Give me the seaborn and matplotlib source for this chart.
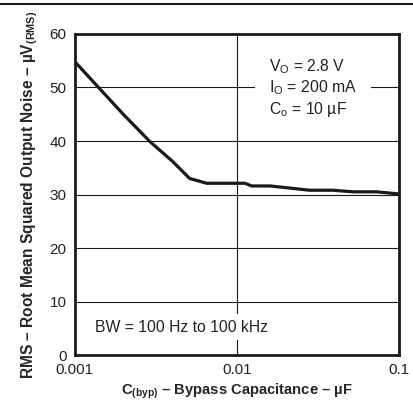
import numpy as np
import pandas as pd
import matplotlib
matplotlib.use("Agg")
import matplotlib.pyplot as plt
from matplotlib.lines import Line2D
import seaborn as sns

# data
cap_uF = [0.001, 0.002, 0.0029, 0.0040, 0.0051, 0.0065, 0.0112, 0.0123, 0.016, 0.028, 0.039, 0.052, 0.073, 0.1]
noise_uV = [54.8, 44.9, 39.9, 36.2, 33.0, 32.1, 32.1, 31.6, 31.6, 30.8, 30.8, 30.5, 30.5, 30.1]
x_ticks = [0.001, 0.01, 0.1]
x_ticklabels = ["0.001", "0.01", "0.1"]
y_ticks = [0, 10, 20, 30, 40, 50, 60]

df = pd.DataFrame({"cap": cap_uF, "noise": noise_uV})

sns.set_style("white")
plt.rcParams['font.family'] = ['Liberation Sans', 'DejaVu Sans']
plt.rcParams['mathtext.fontset'] = 'custom'
plt.rcParams['mathtext.rm'] = 'Liberation Sans'
plt.rcParams['mathtext.bf'] = 'Liberation Sans:bold'
plt.rcParams['mathtext.it'] = 'Liberation Sans:italic'

fig = plt.figure(figsize=(4.14, 4.12), dpi=100)
ax = fig.add_axes([0.181, 0.1383, 0.783, 0.7792])

sns.lineplot(data=df, x="cap", y="noise", ax=ax, color="#1a1a1a", linewidth=2.3, zorder=3)
ax.set_xscale("log")
ax.set_xlim(0.001, 0.1)
ax.set_ylim(0, 60)
ax.set_xticks(x_ticks)
ax.set_xticklabels(x_ticklabels)
ax.set_yticks(y_ticks)
ax.minorticks_off()
ax.tick_params(length=0, labelsize=11, labelcolor="#222222", pad=6)

for v in y_ticks[1:-1]:
    ax.axhline(v, color="#1a1a1a", lw=0.8, zorder=1)
ax.axvline(0.01, color="#1a1a1a", lw=0.8, zorder=1)

for s in ax.spines.values():
    s.set_linewidth(2.0)
    s.set_color("#1a1a1a")

ax.set_xlabel("C$_{\\mathbf{(byp)}}$ – Bypass Capacitance – µF",
              fontsize=10.6, fontweight="bold", labelpad=3)
ax.set_ylabel("RMS – Root Mean Squared Output Noise – µV$_{\\mathbf{(RMS)}}$",
              fontsize=11.2, fontweight="bold", labelpad=7)

ax.text(0.0158, 49.9,
        "V$_\\mathregular{O}$ = 2.8 V\nI$_\\mathregular{O}$ = 200 mA\nC$_\\mathregular{o}$ = 10 µF",
        fontsize=11.3, color="#222222", va="center", ha="left", linespacing=1.2,
        bbox=dict(facecolor="white", edgecolor="none", pad=10), zorder=2)
ax.text(0.00133, 5.2, "BW = 100 Hz to 100 kHz", fontsize=11.3, color="#222222",
        va="center", ha="left",
        bbox=dict(facecolor="white", edgecolor="none", pad=4), zorder=2)

fig.add_artist(Line2D([0, 1], [0.99, 0.99], color="#1a1a1a", lw=1.5))

fig.savefig("out.png", dpi=100)
